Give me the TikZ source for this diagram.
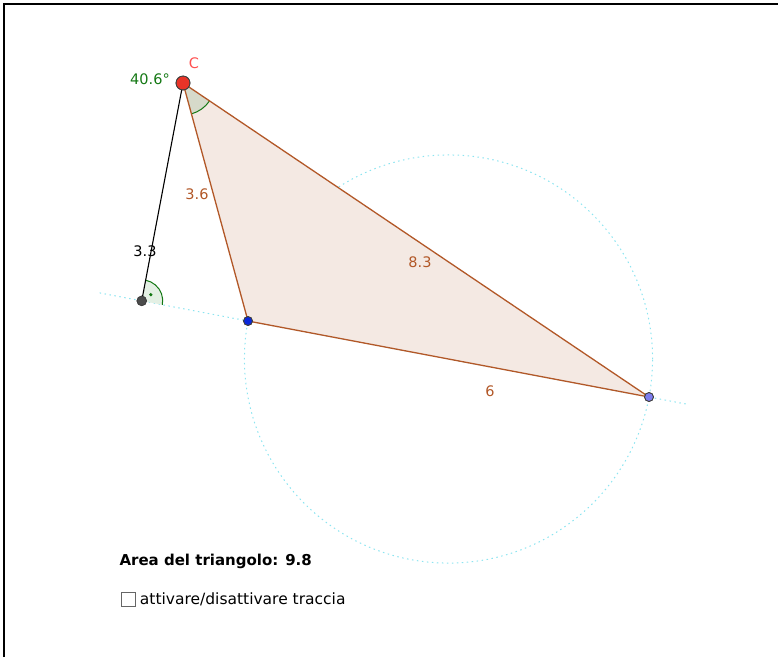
\documentclass[tikz,border=0pt]{standalone}
\usepackage{fontspec}
\setmainfont{DejaVu Sans}
\usetikzlibrary{calc,angles,positioning}
\definecolor{edgebrown}{RGB}{178,88,40}
\definecolor{trifill}{RGB}{244,233,227}
\definecolor{thales}{RGB}{140,228,240}
\definecolor{anggreen}{RGB}{20,120,20}
\definecolor{angfill}{RGB}{214,218,202}
\definecolor{rightfill}{RGB}{228,240,228}
\definecolor{ptred}{RGB}{232,52,40}
\definecolor{ptblue}{RGB}{10,40,220}
\definecolor{ptlilac}{RGB}{125,125,240}
\definecolor{lblred}{RGB}{255,80,80}
\begin{document}
\begin{tikzpicture}[x=1pt,y=-1pt,
  lbl/.style={font=\fontsize{14.5}{16}\selectfont},
  aux/.style={thales,line width=1pt,dash pattern=on 1.5pt off 3.5pt},
  pt/.style={draw=black!75,line width=0.7pt}]
\useasboundingbox (0,0) rectangle (778,657);
\draw[line width=1.2pt] (4,657) -- (4,4) -- (778,4);
\coordinate (C) at (183,83);
\coordinate (A) at (248,321);
\coordinate (B) at (649,397);
\coordinate (H) at ($(A)!(C)!(B)$);
\coordinate (M) at ($(A)!0.5!(B)$);
\coordinate (L1) at ($(A)!-0.37!(B)$);
\coordinate (L2) at ($(A)!1.1!(B)$);
% circle over AB and the line AB
\draw[aux] let \p1=($(B)-(A)$) in (M) circle ({veclen(\x1,\y1)/2});
\draw[aux] (L1) -- (L2);
% triangle
\fill[trifill] (A) -- (B) -- (C) -- cycle;
\pic[draw=anggreen,fill=angfill,line width=1pt,angle radius=32pt] {angle=A--C--B};
\draw[edgebrown,line width=1.3pt] (A) -- (B) -- (C) -- cycle;
% height from C
\pic[draw=anggreen,fill=rightfill,line width=1pt,angle radius=21pt] {angle=A--H--C};
\fill[anggreen] ($(H)!11pt!45:(A)$) circle (1.8);
\draw[black,line width=1.1pt] (C) -- (H);
\fill[pt,fill=black!70] (H) circle (4.8);
\fill[pt,fill=ptblue] (A) circle (4.5);
\fill[pt,fill=ptlilac] (B) circle (4.5);
\fill[pt,fill=ptred] (C) circle (7);
\draw[pt] (H) circle (4.8) (A) circle (4.5) (B) circle (4.5) (C) circle (7);
% labels
\node[lbl,text=lblred] (nC) at (194,63) {C};
\node[lbl,text=anggreen] (nAng) at (150,79) {40.6°};
\node[lbl,text=edgebrown] (nCA) at (197,194) {3.6};
\node[lbl,text=edgebrown] (nCB) at (420,262) {8.3};
\node[lbl,text=edgebrown] (nAB) at (490,391) {6};
\node[lbl] (nCH) at (145,251) {3.3};
\node[anchor=west,font=\fontsize{15}{17}\selectfont\bfseries] (area) at (116,561) {Area del triangolo: 9.8};
\node[draw=black!60,line width=0.8pt,minimum size=14pt,inner sep=0pt] (box) at (128,599) {};
\node[anchor=west,font=\fontsize{15.5}{17}\selectfont,right=1pt of box] (trace) {attivare/disattivare traccia};
\end{tikzpicture}
\end{document}
